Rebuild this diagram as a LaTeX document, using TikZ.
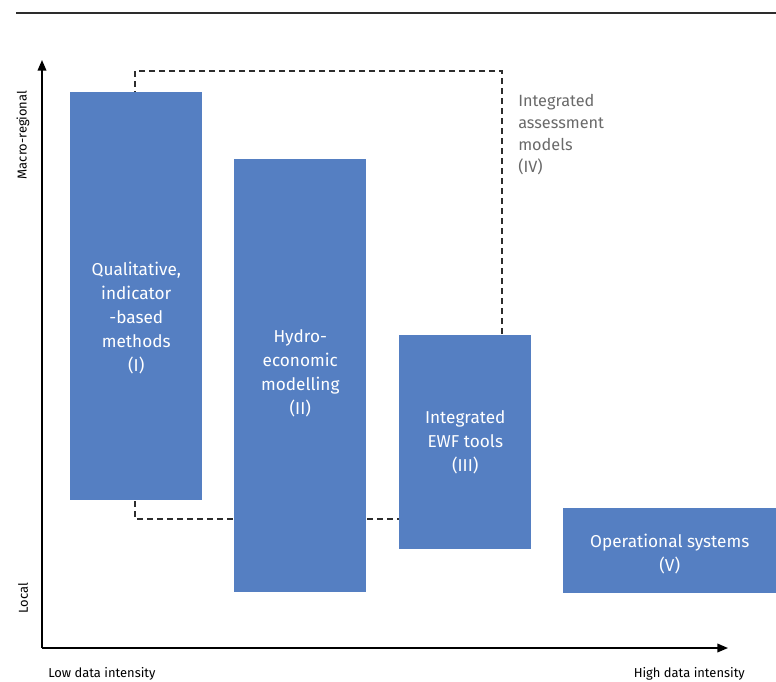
\documentclass[tikz,border=0pt]{standalone}
\usepackage{fontspec}
\setmainfont{Fira Sans}
\usetikzlibrary{positioning, arrows.meta, calc}
\definecolor{boxblue}{RGB}{85,127,194}
\definecolor{ivgray}{RGB}{105,105,105}
\definecolor{rulegray}{RGB}{45,45,45}

\begin{document}
\begin{tikzpicture}[x=0.75pt, y=-0.75pt,
    blk/.style={fill=boxblue, draw=none, inner sep=0pt, anchor=north west},
    btxt/.style={font=\fontsize{12.9}{18}\selectfont, text=white, align=center, inner sep=0pt},
    ivtxt/.style={font=\fontsize{12.2}{16.5}\selectfont, text=ivgray, align=left, inner sep=0pt, anchor=north west},
    axlbl/.style={font=\fontsize{9.7}{11}\selectfont, inner sep=0pt},
    axis/.style={line width=1.1pt, -{Triangle[length=8pt, width=6.5pt]}},
]
\useasboundingbox (0,0) rectangle (776,682);

% top rule
\coordinate (r0) at (16,13);
\coordinate (r1) at (776,13);
\draw[rulegray, line width=0.9pt] (r0) -- (r1);

% axes
\coordinate (o) at (42,648);
\coordinate (ytop) at (42,60);
\coordinate (xend) at (728,648);
\draw[axis] (o) -- (ytop);
\draw[axis] (o) -- (xend);

\node[axlbl, rotate=90] (macro) at (23,135) {Macro-regional};
\node[axlbl, rotate=90] (local) at (23,598) {Local};
\node[axlbl, anchor=west] (low) at (48,674) {Low data intensity};
\node[axlbl, anchor=east] (high) at (745,674) {High data intensity};

% integrated assessment models (IV), dashed frame behind the boxes
\coordinate (d0) at (135,71);
\coordinate (d1) at (502,519);
\draw[rulegray, line width=1pt, dash pattern=on 4.5pt off 3pt] (d0) rectangle (d1);
\node[ivtxt] (t4) at (518,94) {Integrated\\assessment\\models\\(IV)};

% method boxes
\node[blk, minimum width=99pt, minimum height=306pt] (b1) at (70,92) {};
\node[blk, minimum width=99pt, minimum height=324.75pt] (b2) at (234,159) {};
\node[blk, minimum width=99pt, minimum height=160.5pt] (b3) at (399,335) {};
\node[blk, minimum width=159.75pt, minimum height=63.75pt] (b5) at (563,508) {};

\node[btxt] (t1) at ($(b1.center)+(0,22)$) {Qualitative,\\indicator\\-based\\methods\\(I)};
\node[btxt] (t2) at ($(b2.center)+(0,-2)$) {Hydro-\\economic\\modelling\\(II)};
\node[btxt] (t3) at (b3.center) {Integrated\\EWF tools\\(III)};
\node[btxt] (t5) at ($(b5.center)+(0,3)$) {Operational systems\\(V)};

\end{tikzpicture}
\end{document}
